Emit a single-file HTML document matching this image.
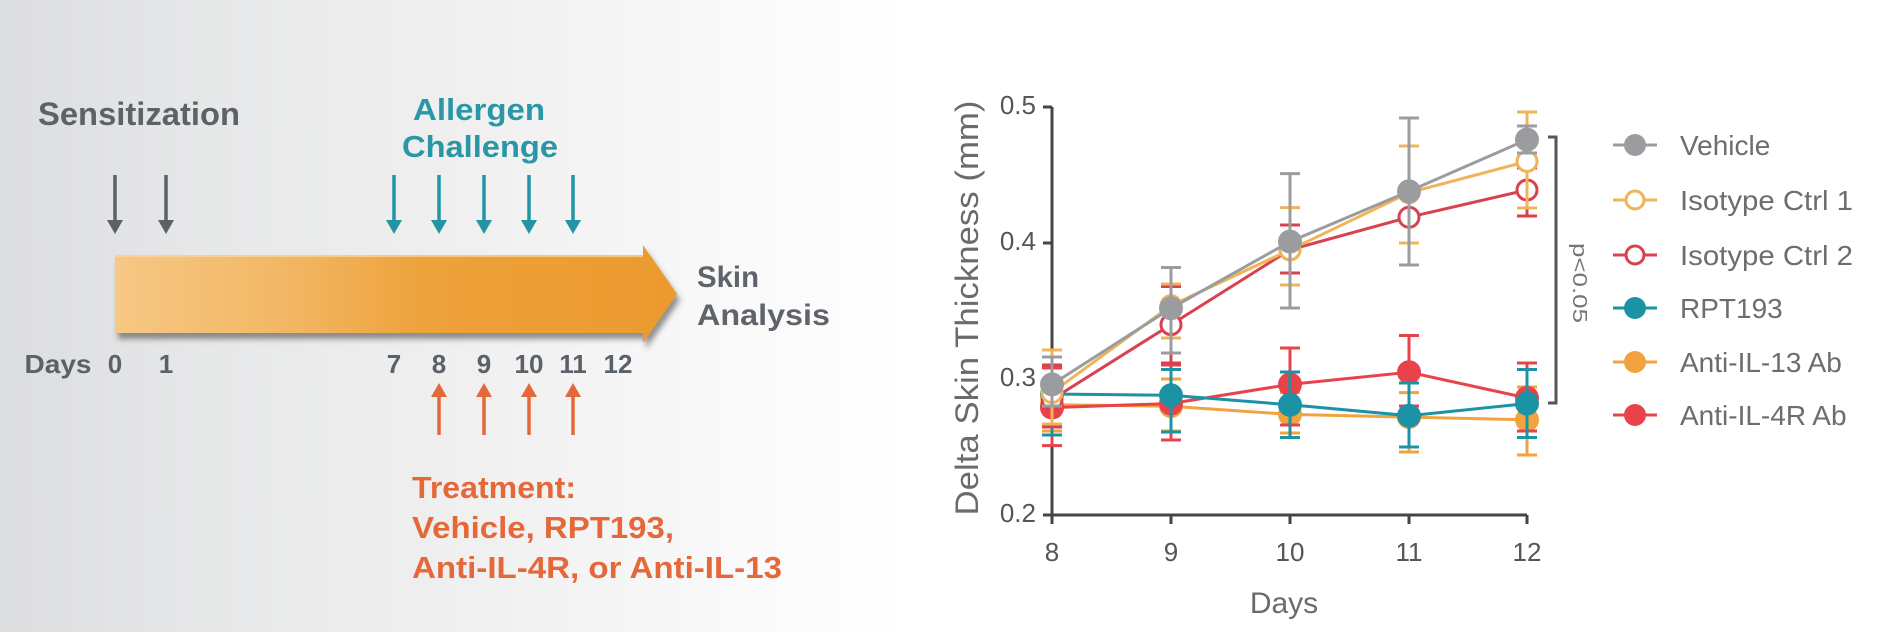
<!DOCTYPE html>
<html><head><meta charset="utf-8"><style>
html,body{margin:0;padding:0;background:#fff;}
svg{display:block;}
text{font-family:"Liberation Sans",Arial,sans-serif;}
</style></head><body>
<svg width="1894" height="632" viewBox="0 0 1894 632" xmlns="http://www.w3.org/2000/svg">
<defs>
<linearGradient id="bg" x1="0" y1="0" x2="1894" y2="0" gradientUnits="userSpaceOnUse">
<stop offset="0" stop-color="#dcdddf"/>
<stop offset="0.1" stop-color="#e6e7e8"/>
<stop offset="0.25" stop-color="#f0f0f0"/>
<stop offset="0.4" stop-color="#fafafa"/>
<stop offset="0.48" stop-color="#ffffff"/>
<stop offset="1" stop-color="#ffffff"/>
</linearGradient>
<linearGradient id="bar" x1="115" y1="0" x2="677" y2="0" gradientUnits="userSpaceOnUse">
<stop offset="0" stop-color="#f6c884"/>
<stop offset="0.3" stop-color="#f2b765"/>
<stop offset="0.55" stop-color="#eea23b"/>
<stop offset="1" stop-color="#ec9a2e"/>
</linearGradient>
<filter id="sh" x="-5%" y="-20%" width="115%" height="150%">
<feDropShadow dx="3" dy="6" stdDeviation="3" flood-color="#3a3a3a" flood-opacity="0.55"/>
</filter>
</defs>
<rect x="0" y="0" width="1894" height="632" fill="url(#bg)"/>

<!-- LEFT: timeline -->
<text x="38" y="125" font-size="32" font-weight="bold" fill="#5d6269" textLength="202" lengthAdjust="spacingAndGlyphs">Sensitization</text>
<text x="479" y="120" font-size="31" font-weight="bold" fill="#2a97a7" text-anchor="middle" textLength="132" lengthAdjust="spacingAndGlyphs">Allergen</text>
<text x="480" y="157" font-size="31" font-weight="bold" fill="#2a97a7" text-anchor="middle" textLength="156" lengthAdjust="spacingAndGlyphs">Challenge</text>

<!-- gray down arrows -->
<g stroke="#5b6168" stroke-width="3.5" fill="#5b6168">
<line x1="115" y1="175" x2="115" y2="224"/>
<line x1="166" y1="175" x2="166" y2="224"/>
</g>
<g fill="#5b6168">
<polygon points="107,220 123,220 115,234"/>
<polygon points="158,220 174,220 166,234"/>
</g>
<!-- teal down arrows -->
<g stroke="#2394a5" stroke-width="3.5">
<line x1="394" y1="175" x2="394" y2="224"/>
<line x1="439" y1="175" x2="439" y2="224"/>
<line x1="484" y1="175" x2="484" y2="224"/>
<line x1="529" y1="175" x2="529" y2="224"/>
<line x1="573" y1="175" x2="573" y2="224"/>
</g>
<g fill="#2394a5">
<polygon points="386,220 402,220 394,234"/>
<polygon points="431,220 447,220 439,234"/>
<polygon points="476,220 492,220 484,234"/>
<polygon points="521,220 537,220 529,234"/>
<polygon points="565,220 581,220 573,234"/>
</g>

<!-- big orange arrow -->
<polygon points="115,255 643,255 643,245 677,294 643,343 643,333 115,333" fill="url(#bar)" filter="url(#sh)"/>
<line x1="115" y1="256" x2="643" y2="256" stroke="#fbd9a3" stroke-width="2" opacity="0.7"/>

<text x="697" y="287" font-size="30" font-weight="bold" fill="#5f646b" textLength="62" lengthAdjust="spacingAndGlyphs">Skin</text>
<text x="697" y="325" font-size="30" font-weight="bold" fill="#5f646b" textLength="133" lengthAdjust="spacingAndGlyphs">Analysis</text>

<!-- days row -->
<g font-size="26" font-weight="bold" fill="#5b6168" text-anchor="middle">
<text x="58" y="373" textLength="67" lengthAdjust="spacingAndGlyphs">Days</text>
<text x="115" y="373">0</text>
<text x="166" y="373">1</text>
<text x="394" y="373">7</text>
<text x="439" y="373">8</text>
<text x="484" y="373">9</text>
<text x="529" y="373">10</text>
<text x="573" y="373">11</text>
<text x="618" y="373">12</text>
</g>

<!-- orange up arrows -->
<g stroke="#e4683a" stroke-width="3.5">
<line x1="439" y1="392" x2="439" y2="435"/>
<line x1="484" y1="392" x2="484" y2="435"/>
<line x1="529" y1="392" x2="529" y2="435"/>
<line x1="573" y1="392" x2="573" y2="435"/>
</g>
<g fill="#e4683a">
<polygon points="431,397 447,397 439,383"/>
<polygon points="476,397 492,397 484,383"/>
<polygon points="521,397 537,397 529,383"/>
<polygon points="565,397 581,397 573,383"/>
</g>
<g font-size="31" font-weight="bold" fill="#e4683a">
<text x="412" y="498" textLength="164" lengthAdjust="spacingAndGlyphs">Treatment:</text>
<text x="412" y="538" textLength="262" lengthAdjust="spacingAndGlyphs">Vehicle, RPT193,</text>
<text x="412" y="578" textLength="370" lengthAdjust="spacingAndGlyphs">Anti-IL-4R, or Anti-IL-13</text>
</g>

<!-- CHART -->
<text transform="translate(978,308) rotate(-90)" font-size="32" fill="#6b6b6b" text-anchor="middle" textLength="415" lengthAdjust="spacingAndGlyphs">Delta Skin Thickness (mm)</text>

<g stroke="#454545" stroke-width="3" fill="none">
<path d="M1052 107 V515 H1527"/>
<path d="M1043 107 H1052 M1043 243 H1052 M1043 379 H1052 M1043 515 H1052"/>
<path d="M1052 515 V524 M1171 515 V524 M1290 515 V524 M1409 515 V524 M1527 515 V524"/>
</g>
<g font-size="26" fill="#555" text-anchor="end">
<text x="1036" y="114">0.5</text>
<text x="1036" y="250">0.4</text>
<text x="1036" y="386">0.3</text>
<text x="1036" y="522">0.2</text>
</g>
<g font-size="26" fill="#555" text-anchor="middle">
<text x="1052" y="561">8</text>
<text x="1171" y="561">9</text>
<text x="1290" y="561">10</text>
<text x="1409" y="561">11</text>
<text x="1527" y="561">12</text>
</g>
<text x="1284" y="613" font-size="30" fill="#6b6b6b" text-anchor="middle">Days</text>

<!-- Anti-IL-13 Ab -->
<g stroke="#f0a33e" stroke-width="3" fill="none">
<polyline points="1052,404.8 1171,406.2 1290,414.4 1409,417.1 1527,419.8"/>
<path d="M1052 379V431 M1042 379H1062 M1042 431H1062 M1171 379V431 M1161 379H1181 M1161 431H1181 M1290 392.6V433 M1280 392.6H1300 M1280 433H1300 M1409 392.6V452 M1399 392.6H1419 M1399 452H1419 M1527 387V455 M1517 387H1537 M1517 455H1537"/>
</g>
<g fill="#f0a33e">
<circle cx="1052" cy="404.8" r="12"/><circle cx="1171" cy="406.2" r="12"/><circle cx="1290" cy="414.4" r="12"/><circle cx="1409" cy="417.1" r="12"/><circle cx="1527" cy="419.8" r="12"/>
</g>

<!-- Anti-IL-4R Ab -->
<g stroke="#e8434a" stroke-width="3" fill="none">
<polyline points="1052,407.6 1171,403.5 1290,384.4 1409,372.2 1527,398"/>
<path d="M1052 368V445.6 M1042 368H1062 M1042 445.6H1062 M1171 365V440 M1161 365H1181 M1161 440H1181 M1290 348V425 M1280 348H1300 M1280 425H1300 M1409 335.5V406 M1399 335.5H1419 M1399 406H1419 M1527 363V431 M1517 363H1537 M1517 431H1537"/>
</g>
<g fill="#e8434a">
<circle cx="1052" cy="407.6" r="12"/><circle cx="1171" cy="403.5" r="12"/><circle cx="1290" cy="384.4" r="12"/><circle cx="1409" cy="372.2" r="12"/><circle cx="1527" cy="398" r="12"/>
</g>

<!-- RPT193 -->
<g stroke="#1b93a5" stroke-width="3" fill="none">
<polyline points="1052,394 1171,395.3 1290,404.8 1409,415.7 1527,403.5"/>
<path d="M1052 379V435 M1042 379H1062 M1042 435H1062 M1171 369.5V432 M1161 369.5H1181 M1161 432H1181 M1290 372V437.5 M1280 372H1300 M1280 437.5H1300 M1409 383V447 M1399 383H1419 M1399 447H1419 M1527 369.5V437.5 M1517 369.5H1537 M1517 437.5H1537"/>
</g>
<g fill="#1b93a5">
<circle cx="1052" cy="394" r="12"/><circle cx="1171" cy="395.3" r="12"/><circle cx="1290" cy="404.8" r="12"/><circle cx="1409" cy="415.7" r="12"/><circle cx="1527" cy="403.5" r="12"/>
</g>

<!-- Isotype Ctrl 2 -->
<g stroke="#d9414f" stroke-width="3" fill="none">
<polyline points="1052,399.4 1171,324.6 1290,249.8 1409,217.2 1527,190"/>
<path d="M1052 365V427 M1042 365H1062 M1042 427H1062 M1171 286.5V363 M1161 286.5H1181 M1161 363H1181 M1290 225V273 M1280 225H1300 M1280 273H1300 M1409 188.6V243 M1399 188.6H1419 M1399 243H1419 M1527 168V216 M1517 168H1537 M1517 216H1537"/>
</g>
<g fill="#fff" stroke="#d9414f" stroke-width="3">
<circle cx="1052" cy="399.4" r="10"/><circle cx="1171" cy="324.6" r="10"/><circle cx="1290" cy="249.8" r="10"/><circle cx="1409" cy="217.2" r="10"/><circle cx="1527" cy="190" r="10"/>
</g>

<!-- Isotype Ctrl 1 -->
<g stroke="#f0b458" stroke-width="3" fill="none">
<polyline points="1052,392.6 1171,305.6 1290,249.8 1409,192.7 1527,161.4"/>
<path d="M1052 350V424 M1042 350H1062 M1042 424H1062 M1171 284V338 M1161 284H1181 M1161 338H1181 M1290 207.6V285 M1280 207.6H1300 M1280 285H1300 M1409 146V243 M1399 146H1419 M1399 243H1419 M1527 112V208 M1517 112H1537 M1517 208H1537"/>
</g>
<g fill="#fff" stroke="#f0b458" stroke-width="3">
<circle cx="1052" cy="392.6" r="10"/><circle cx="1171" cy="305.6" r="10"/><circle cx="1290" cy="249.8" r="10"/><circle cx="1409" cy="192.7" r="10"/><circle cx="1527" cy="161.4" r="10"/>
</g>

<!-- Vehicle -->
<g stroke="#9b9c9f" stroke-width="3" fill="none">
<polyline points="1052,384.4 1171,308.3 1290,241.6 1409,191.3 1527,139.6"/>
<path d="M1052 357V406 M1042 357H1062 M1042 406H1062 M1171 267.5V353 M1161 267.5H1181 M1161 353H1181 M1290 173.6V308 M1280 173.6H1300 M1280 308H1300 M1409 118V265 M1399 118H1419 M1399 265H1419 M1527 126V153 M1517 126H1537 M1517 153H1537"/>
</g>
<g fill="#9b9c9f">
<circle cx="1052" cy="384.4" r="12"/><circle cx="1171" cy="308.3" r="12"/><circle cx="1290" cy="241.6" r="12"/><circle cx="1409" cy="191.3" r="12"/><circle cx="1527" cy="139.6" r="12"/>
</g>

<!-- significance bracket -->
<path d="M1548 137 H1556 V403 H1548" stroke="#555" stroke-width="3" fill="none"/>
<text transform="translate(1573,283) rotate(90)" font-size="20" fill="#777" text-anchor="middle" textLength="80" lengthAdjust="spacingAndGlyphs">p&lt;0.05</text>

<!-- legend -->
<g stroke-width="3">
<line x1="1613" y1="145" x2="1657" y2="145" stroke="#9b9c9f"/>
<circle cx="1635" cy="145" r="11" fill="#9b9c9f"/>
<line x1="1613" y1="200" x2="1657" y2="200" stroke="#f0b458"/>
<circle cx="1635" cy="200" r="9" fill="#fff" stroke="#f0b458"/>
<line x1="1613" y1="255" x2="1657" y2="255" stroke="#d9414f"/>
<circle cx="1635" cy="255" r="9" fill="#fff" stroke="#d9414f"/>
<line x1="1613" y1="308" x2="1657" y2="308" stroke="#1b93a5"/>
<circle cx="1635" cy="308" r="11" fill="#1b93a5"/>
<line x1="1613" y1="362" x2="1657" y2="362" stroke="#f0a33e"/>
<circle cx="1635" cy="362" r="11" fill="#f0a33e"/>
<line x1="1613" y1="415" x2="1657" y2="415" stroke="#e8434a"/>
<circle cx="1635" cy="415" r="11" fill="#e8434a"/>
</g>
<g font-size="28" fill="#6d6d6d">
<text x="1680" y="155">Vehicle</text>
<text x="1680" y="210" textLength="173" lengthAdjust="spacingAndGlyphs">Isotype Ctrl 1</text>
<text x="1680" y="265" textLength="173" lengthAdjust="spacingAndGlyphs">Isotype Ctrl 2</text>
<text x="1680" y="318">RPT193</text>
<text x="1680" y="372">Anti-IL-13 Ab</text>
<text x="1680" y="425">Anti-IL-4R Ab</text>
</g>
</svg>
</body></html>
